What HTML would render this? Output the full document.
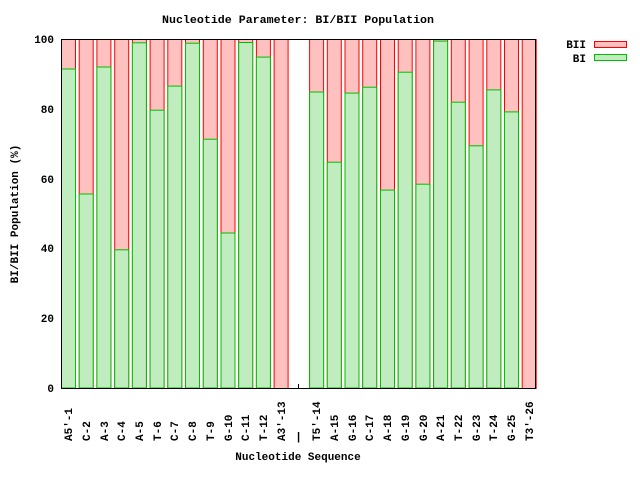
<!DOCTYPE html>
<html><head><meta charset="utf-8"><style>body{margin:0;background:#fff}svg{display:block}text{font-family:"Liberation Mono",monospace;font-weight:bold;font-size:11px;fill:#000}</style></head><body>
<svg width="640" height="480" xmlns="http://www.w3.org/2000/svg">
<text x="298" y="23" text-anchor="middle" textLength="272" lengthAdjust="spacingAndGlyphs">Nucleotide Parameter: BI/BII Population</text>
<g stroke-width="1">
<g fill="#ffc0c0" stroke="#ff0000">
<rect x="61.5" y="39.5" width="14" height="349"/><rect x="79.2" y="39.5" width="14" height="349"/><rect x="96.9" y="39.5" width="14" height="349"/><rect x="114.7" y="39.5" width="14" height="349"/><rect x="132.4" y="39.5" width="14" height="349"/><rect x="150.1" y="39.5" width="14" height="349"/><rect x="167.8" y="39.5" width="14" height="349"/><rect x="185.5" y="39.5" width="14" height="349"/><rect x="203.3" y="39.5" width="14" height="349"/><rect x="221" y="39.5" width="14" height="349"/><rect x="238.7" y="39.5" width="14" height="349"/><rect x="256.4" y="39.5" width="14" height="349"/><rect x="274.1" y="39.5" width="14" height="349"/>
<rect x="309.6" y="39.5" width="14" height="349"/><rect x="327.3" y="39.5" width="14" height="349"/><rect x="345" y="39.5" width="14" height="349"/><rect x="362.7" y="39.5" width="14" height="349"/><rect x="380.5" y="39.5" width="14" height="349"/><rect x="398.2" y="39.5" width="14" height="349"/><rect x="415.9" y="39.5" width="14" height="349"/><rect x="433.6" y="39.5" width="14" height="349"/><rect x="451.3" y="39.5" width="14" height="349"/><rect x="469.1" y="39.5" width="14" height="349"/><rect x="486.8" y="39.5" width="14" height="349"/><rect x="504.5" y="39.5" width="14" height="349"/><rect x="522.2" y="39.5" width="14" height="349"/>
</g>
<g fill="#c0ecc0" stroke="#00c000">
<rect x="61.5" y="69" width="14" height="319"/><rect x="79.2" y="194" width="14" height="194"/><rect x="96.9" y="67" width="14" height="321"/><rect x="114.7" y="249.8" width="14" height="138.2"/><rect x="132.4" y="42.8" width="14" height="345.2"/><rect x="150.1" y="110.2" width="14" height="277.8"/><rect x="167.8" y="86.1" width="14" height="301.9"/><rect x="185.5" y="43.2" width="14" height="344.8"/><rect x="203.3" y="139.2" width="14" height="248.8"/><rect x="221" y="233" width="14" height="155"/><rect x="238.7" y="42.5" width="14" height="345.5"/><rect x="256.4" y="57.1" width="14" height="330.9"/>
<rect x="309.6" y="92" width="14" height="296"/><rect x="327.3" y="162.2" width="14" height="225.8"/><rect x="345" y="93.1" width="14" height="294.9"/><rect x="362.7" y="87.2" width="14" height="300.8"/><rect x="380.5" y="190.1" width="14" height="197.9"/><rect x="398.2" y="72.2" width="14" height="315.8"/><rect x="415.9" y="184.2" width="14" height="203.8"/><rect x="433.6" y="41.1" width="14" height="346.9"/><rect x="451.3" y="102.2" width="14" height="285.8"/><rect x="469.1" y="145.8" width="14" height="242.2"/><rect x="486.8" y="89.9" width="14" height="298.1"/><rect x="504.5" y="111.9" width="14" height="276.1"/>
</g>
</g>
<rect x="61.5" y="39.5" width="474" height="349" fill="none" stroke="#000"/>
<line x1="298.5" y1="388" x2="298.5" y2="384" stroke="#000"/>
<g text-anchor="end">
<text x="54" y="392">0</text><text x="54" y="322">20</text><text x="54" y="252">40</text><text x="54" y="183">60</text><text x="54" y="113">80</text><text x="54" y="43">100</text>
</g>
<text transform="translate(18,214) rotate(-90)" text-anchor="middle">BI/BII Population (%)</text>
<text x="298" y="460" text-anchor="middle">Nucleotide Sequence</text>
<g>
<text transform="translate(72,441) rotate(-90)">A5'-1</text>
<text transform="translate(90,441) rotate(-90)">C-2</text>
<text transform="translate(108,441) rotate(-90)">A-3</text>
<text transform="translate(125,441) rotate(-90)">C-4</text>
<text transform="translate(143,441) rotate(-90)">A-5</text>
<text transform="translate(161,441) rotate(-90)">T-6</text>
<text transform="translate(178,441) rotate(-90)">C-7</text>
<text transform="translate(196,441) rotate(-90)">C-8</text>
<text transform="translate(214,441) rotate(-90)">T-9</text>
<text transform="translate(232,441) rotate(-90)">G-10</text>
<text transform="translate(249,441) rotate(-90)">C-11</text>
<text transform="translate(267,441) rotate(-90)">T-12</text>
<text transform="translate(285,441) rotate(-90)">A3'-13</text>
<text x="298.5" y="440" text-anchor="middle">|</text>
<text transform="translate(320,441) rotate(-90)">T5'-14</text>
<text transform="translate(338,441) rotate(-90)">A-15</text>
<text transform="translate(356,441) rotate(-90)">G-16</text>
<text transform="translate(373,441) rotate(-90)">C-17</text>
<text transform="translate(391,441) rotate(-90)">A-18</text>
<text transform="translate(409,441) rotate(-90)">G-19</text>
<text transform="translate(427,441) rotate(-90)">G-20</text>
<text transform="translate(444,441) rotate(-90)">A-21</text>
<text transform="translate(462,441) rotate(-90)">T-22</text>
<text transform="translate(480,441) rotate(-90)">G-23</text>
<text transform="translate(497,441) rotate(-90)">T-24</text>
<text transform="translate(515,441) rotate(-90)">G-25</text>
<text transform="translate(533,441) rotate(-90)">T3'-26</text>
</g>
<text x="586" y="48" text-anchor="end">BII</text>
<text x="586" y="62" text-anchor="end">BI</text>
<rect x="594.5" y="41.5" width="32" height="6" fill="#ffc0c0" stroke="#ff0000"/>
<rect x="594.5" y="54.5" width="32" height="6" fill="#c0ecc0" stroke="#00c000"/>
</svg>
</body></html>
